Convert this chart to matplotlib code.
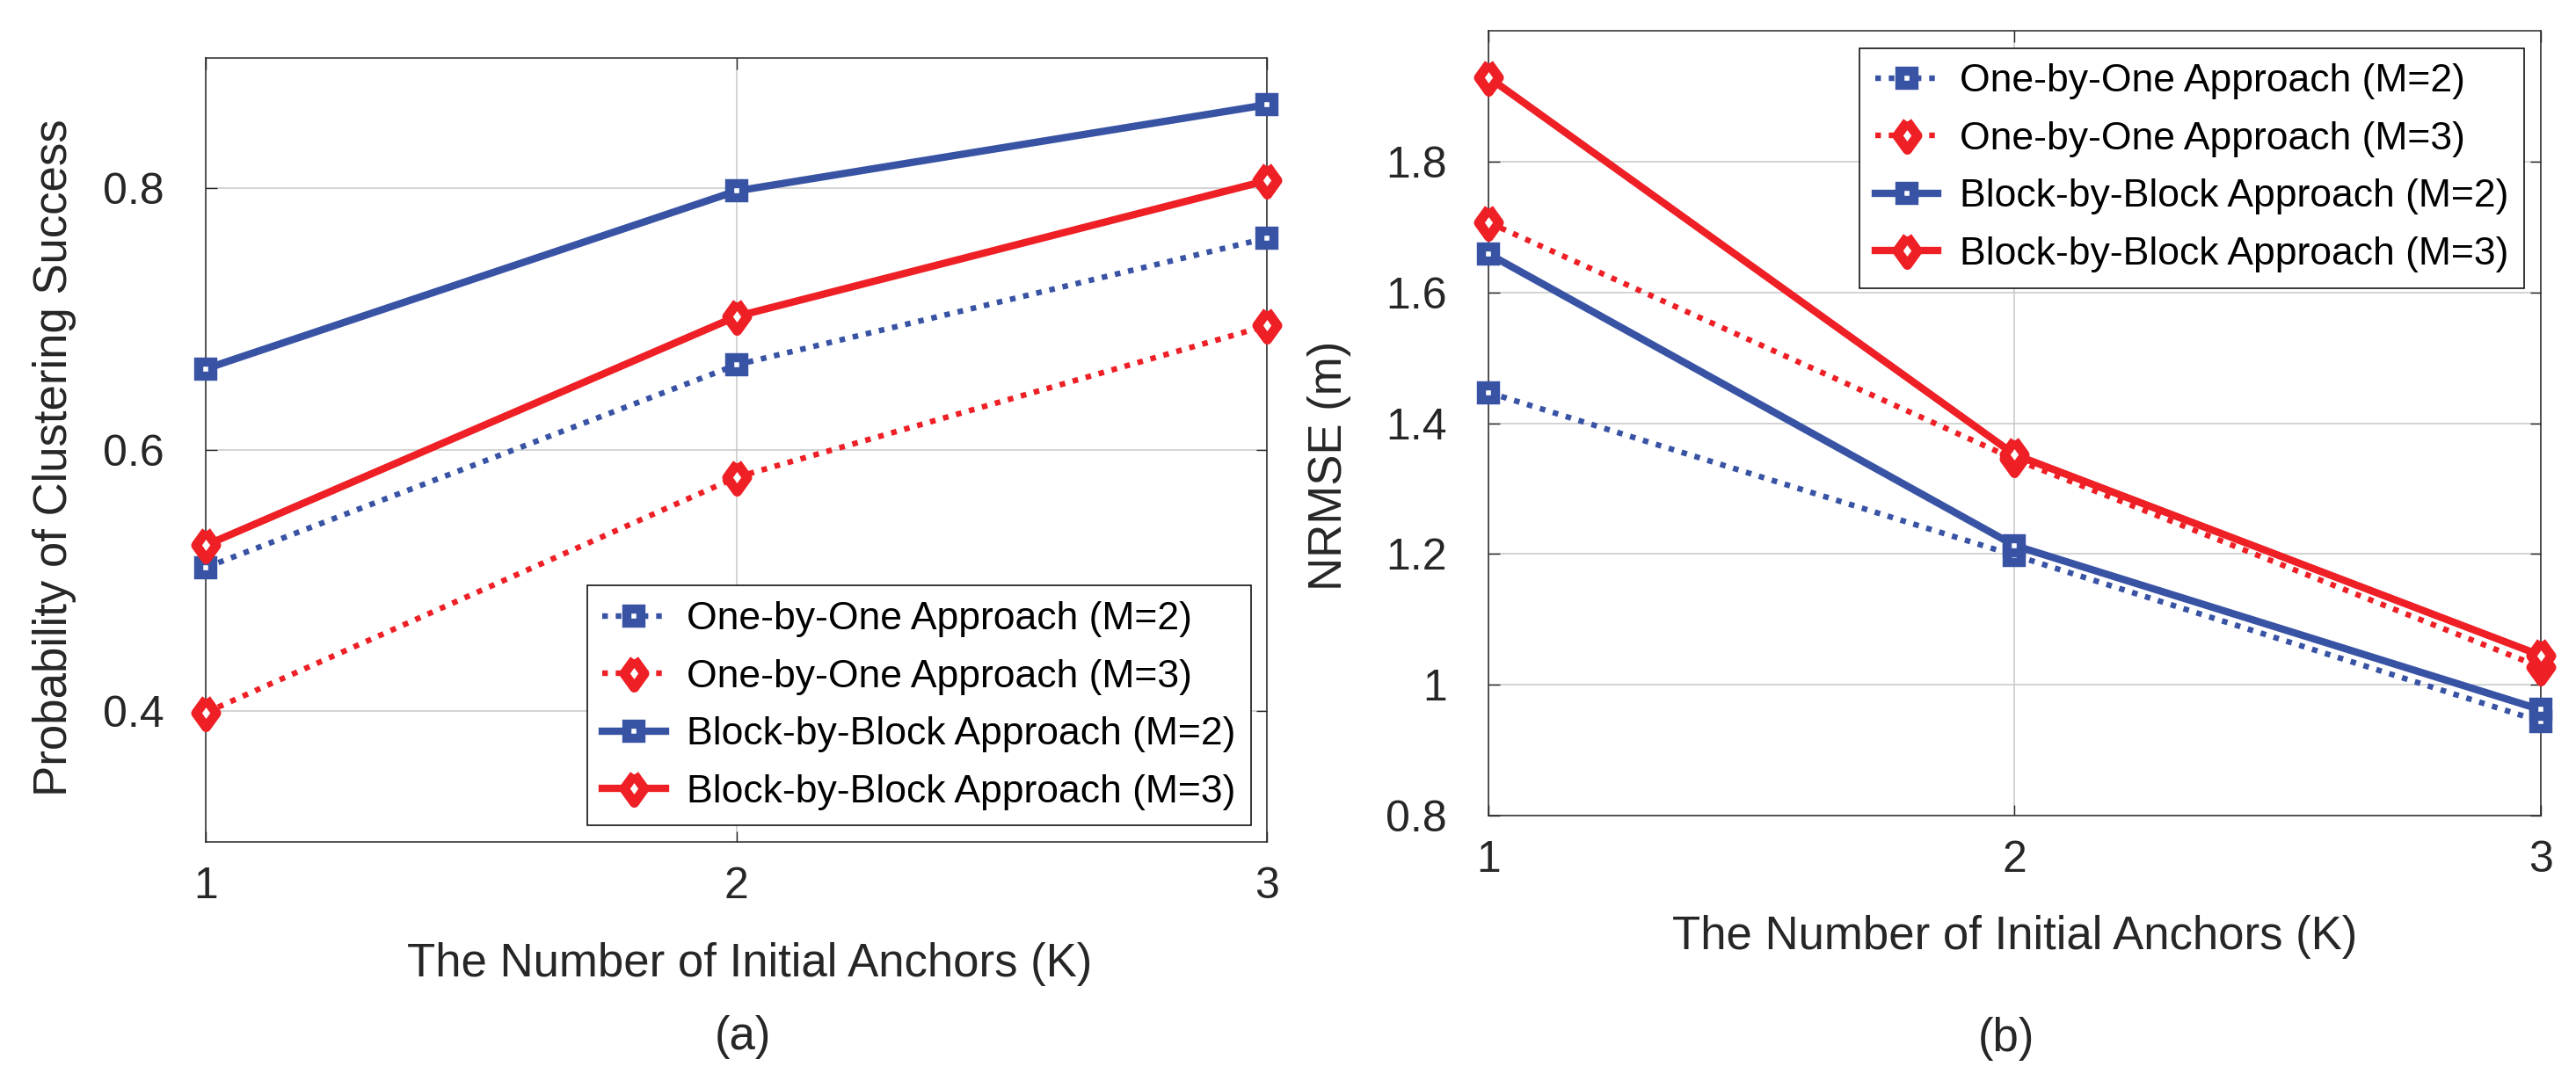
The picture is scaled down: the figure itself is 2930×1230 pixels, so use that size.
import matplotlib
matplotlib.use("Agg")
import matplotlib.pyplot as plt
from matplotlib.ticker import FormatStrFormatter

plt.rcParams["font.family"] = ["Liberation Sans", "DejaVu Sans"]

# number of initial anchors
k_values = [1, 2, 3]

# (a) probability of clustering success
a_one_m2 = [0.510, 0.665, 0.762]
a_one_m3 = [0.399, 0.579, 0.695]
a_block_m2 = [0.662, 0.798, 0.864]
a_block_m3 = [0.527, 0.702, 0.806]

# (b) NRMSE (m)
b_one_m2 = [1.447, 1.198, 0.944]
b_one_m3 = [1.707, 1.345, 1.027]
b_block_m2 = [1.659, 1.213, 0.962]
b_block_m3 = [1.929, 1.352, 1.045]

labels = [
    "One-by-One Approach (M=2)",
    "One-by-One Approach (M=3)",
    "Block-by-Block Approach (M=2)",
    "Block-by-Block Approach (M=3)",
]

BLUE = "#3953a4"
RED = "#ee1f25"
TEXT = "#262626"
DOTTED = (0, (1.0, 1.4))
# slightly squashed diamond, as in the MATLAB export
DIAMOND = [(0, 1), (0.72, 0), (0, -1), (-0.72, 0), (0, 1)]


def style_series():
    return [
        dict(color=BLUE, ls=DOTTED, lw=4.6, marker="s", ms=11, mew=7.5),
        dict(color=RED, ls=DOTTED, lw=4.6, marker=DIAMOND, ms=23, mew=8.0),
        dict(color=BLUE, ls="-", lw=6.0, marker="s", ms=11, mew=7.5),
        dict(color=RED, ls="-", lw=6.0, marker=DIAMOND, ms=23, mew=8.0),
    ]


def draw_panel(ax, series, ylim, yticks):
    for values, label, st in zip(series, labels, style_series()):
        ax.plot(
            k_values,
            values,
            color=st["color"],
            linestyle=st["ls"],
            linewidth=st["lw"],
            marker=st["marker"],
            markersize=st["ms"],
            markeredgewidth=st["mew"],
            markerfacecolor="white",
            markeredgecolor=st["color"],
            label=label,
            clip_on=False,
            zorder=3,
        )
    ax.set_xlim(1, 3)
    ax.set_ylim(*ylim)
    ax.set_xticks(k_values)
    ax.set_yticks(yticks)
    ax.yaxis.set_major_formatter(FormatStrFormatter("%g"))
    ax.grid(True, color="#c8c8c8", linewidth=1.1)
    ax.set_axisbelow(True)
    ax.tick_params(
        axis="both",
        direction="in",
        top=True,
        right=True,
        length=9,
        width=1.0,
        color=TEXT,
        labelcolor=TEXT,
        labelsize=36,
    )
    ax.tick_params(axis="y", pad=34)
    ax.tick_params(axis="x", pad=20)
    for spine in ax.spines.values():
        spine.set_color(TEXT)
        spine.set_linewidth(1.1)


fig = plt.figure(figsize=(29.3, 12.3), dpi=100)
ax_a = fig.add_axes([0.0799, 0.2211, 0.412, 0.7256])
ax_b = fig.add_axes([0.5778, 0.2455, 0.4085, 0.726])

draw_panel(ax_a, [a_one_m2, a_one_m3, a_block_m2, a_block_m3], (0.3, 0.9), [0.4, 0.6, 0.8])
draw_panel(ax_b, [b_one_m2, b_one_m3, b_block_m2, b_block_m3], (0.8, 2.0),
           [0.8, 1.0, 1.2, 1.4, 1.6, 1.8])

ax_a.set_xlabel("The Number of Initial Anchors (K)", fontsize=38, color=TEXT)
ax_a.xaxis.set_label_coords(0.512, -0.156)
ax_a.xaxis.label.set_va("center")
ax_a.set_ylabel("Probability of Clustering Success", fontsize=38, color=TEXT)
ax_a.yaxis.set_label_coords(-0.1425, 0.49)
ax_a.yaxis.label.set_va("center")

ax_b.set_xlabel("The Number of Initial Anchors (K)", fontsize=38, color=TEXT)
ax_b.xaxis.set_label_coords(0.5, -0.155)
ax_b.xaxis.label.set_va("center")
ax_b.set_ylabel("NRMSE (m)", fontsize=38, color=TEXT)
ax_b.yaxis.set_label_coords(-0.151, 0.446)
ax_b.yaxis.label.set_va("center")

legend_kw = dict(
    fontsize=32,
    frameon=True,
    fancybox=False,
    framealpha=1.0,
    edgecolor="black",
    borderaxespad=0.0,
    borderpad=0.4,
    handlelength=1.6,
    handletextpad=0.55,
    labelspacing=0.55,
)
leg_a = ax_a.legend(loc="lower right", bbox_to_anchor=(0.985, 0.021), **legend_kw)
leg_b = ax_b.legend(loc="upper right", bbox_to_anchor=(0.984, 0.978), **legend_kw)
for leg in (leg_a, leg_b):
    leg.get_frame().set_linewidth(1.1)

fig.text(845 / 2930, 1 - 1180 / 1230, "(a)", fontsize=38, color=TEXT,
         ha="center", va="center")
fig.text(2282 / 2930, 1 - 1182 / 1230, "(b)", fontsize=38, color=TEXT,
         ha="center", va="center")

fig.savefig("out.png", dpi=100)
